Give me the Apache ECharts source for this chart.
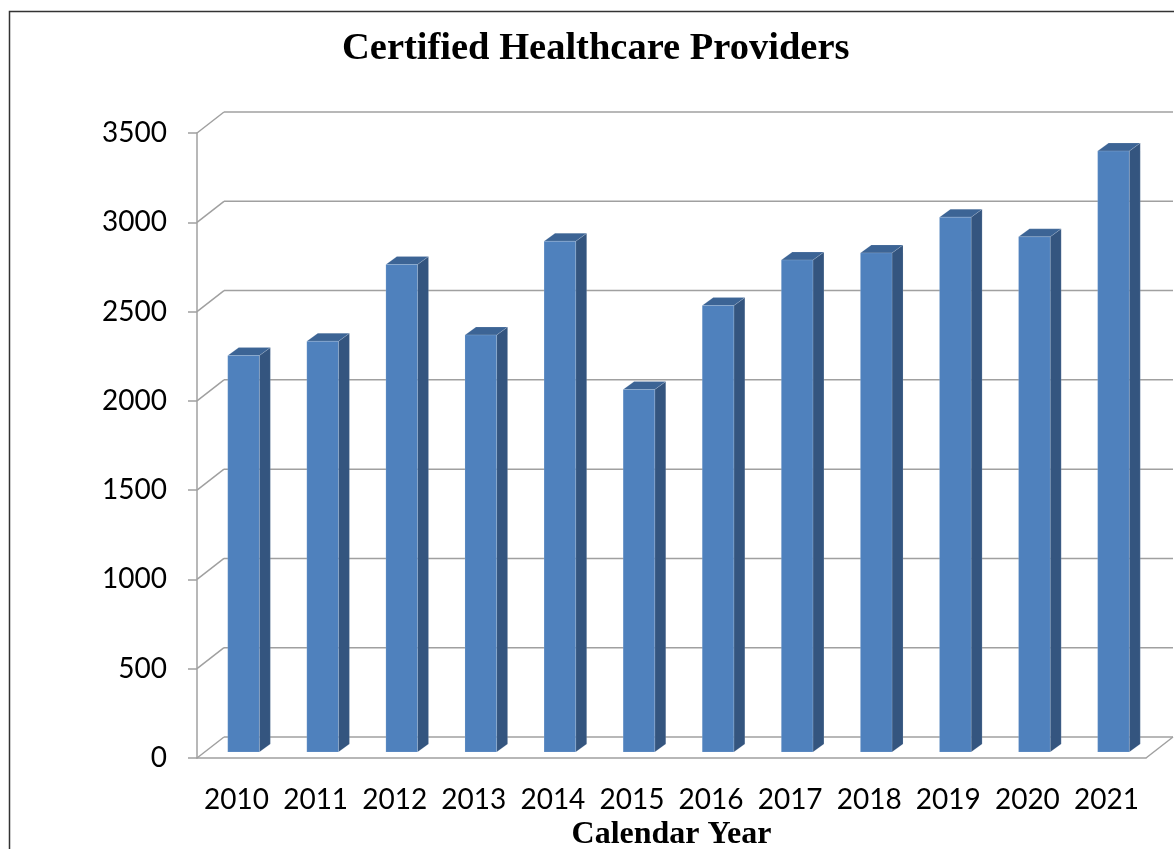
<!DOCTYPE html>
<html>
<head>
<meta charset="utf-8">
<title>Certified Healthcare Providers</title>
<script src="https://cdn.jsdelivr.net/npm/echarts@6/dist/echarts.min.js"></script>
<style>
  html, body { margin: 0; padding: 0; background: #fff; }
  #container { width: 1174px; height: 849px; }
</style>
</head>
<body>
<div id="container"></div>
<script>
// data
var years = ['2010', '2011', '2012', '2013', '2014', '2015', '2016', '2017', '2018', '2019', '2020', '2021'];
var providers = [2220, 2300, 2730, 2335, 2860, 2030, 2500, 2755, 2795, 2995, 2885, 3365];
var yTicks = [0, 500, 1000, 1500, 2000, 2500, 3000, 3500];

var dom = document.getElementById('container');
var myChart = echarts.init(dom);

// pseudo 3d depth of the back wall / of a bar
var WALL_DX = 27, WALL_DY = 21;
var BAR_DX = 11, BAR_DY = 8;
var gridColor = '#a0a0a0';

function renderWall(params, api) {
  var cs = params.coordSys;
  var v = api.value(1);
  var y = api.coord([0, v])[1];
  var x0 = cs.x, x1 = cs.x + cs.width;
  var style = { stroke: gridColor, lineWidth: 1.5 };
  var kids = [
    { type: 'line', shape: { x1: x0, y1: y, x2: x0 + WALL_DX, y2: y - WALL_DY }, style: style },
    { type: 'line', shape: { x1: x0 + WALL_DX, y1: y - WALL_DY, x2: x1 + WALL_DX, y2: y - WALL_DY }, style: style }
  ];
  if (v === 0) {
    kids.push({ type: 'line', shape: { x1: x1, y1: y, x2: x1 + WALL_DX, y2: y - WALL_DY }, style: style });
  }
  return { type: 'group', children: kids };
}

function renderBar(params, api) {
  var i = api.value(0);
  var top = api.coord([i, api.value(1)]);
  var base = api.coord([i, 0]);
  var bw = api.size([1, 0])[0] * 0.4;
  var cx = top[0] + 7;
  var xl = cx - bw / 2, xr = cx + bw / 2;
  var ty = top[1] - 6, by = base[1] - 6;
  return {
    type: 'group',
    children: [
      { type: 'polygon', shape: { points: [[xr, ty], [xr + BAR_DX, ty - BAR_DY], [xr + BAR_DX, by - BAR_DY], [xr, by]] },
        style: { fill: '#34557f', stroke: 'rgba(255,255,255,0.25)', lineWidth: 0.5 } },
      { type: 'polygon', shape: { points: [[xl, ty], [xl + BAR_DX, ty - BAR_DY], [xr + BAR_DX, ty - BAR_DY], [xr, ty]] },
        style: { fill: '#3c6495', stroke: 'rgba(255,255,255,0.25)', lineWidth: 0.5 } },
      { type: 'rect', shape: { x: xl, y: ty, width: bw, height: by - ty },
        style: { fill: '#4f81bd', stroke: 'rgba(255,255,255,0.25)', lineWidth: 0.5 } }
    ]
  };
}

option = {
  backgroundColor: '#fff',
  animation: false,
  title: {
    text: 'Certified Healthcare Providers',
    left: 337,
    top: 25,
    textStyle: { fontFamily: 'Liberation Serif', fontWeight: 'bold', fontSize: 38.5, color: '#000' }
  },
  graphic: [{
    type: 'rect', left: 7, top: 9, shape: { width: 1200, height: 900 },
    style: { fill: 'none', stroke: '#333', lineWidth: 1.5 }, z: 100
  }],
  grid: { left: 197, right: 28, top: 133, bottom: 91, containLabel: false, outerBoundsMode: 'none' },
  xAxis: {
    type: 'category',
    data: years,
    name: 'Calendar Year',
    nameLocation: 'middle',
    nameGap: 53,
    nameTextStyle: { fontFamily: 'Liberation Serif', fontWeight: 'bold', fontSize: 32, color: '#000' },
    axisLine: { lineStyle: { color: gridColor, width: 1.5 } },
    axisTick: { length: 9, lineStyle: { color: gridColor, width: 1.5 } },
    axisLabel: { interval: 0, margin: 28, fontFamily: 'Lato', fontSize: 28, color: '#000' },
    splitLine: { show: false }
  },
  yAxis: {
    type: 'value',
    min: 0,
    max: 3500,
    interval: 500,
    axisLine: { show: true, lineStyle: { color: gridColor, width: 1.5 } },
    axisTick: { show: true, length: 9, lineStyle: { color: gridColor, width: 1.5 } },
    axisLabel: {
      margin: 30, fontFamily: 'Lato', fontSize: 28, color: '#000',
      padding: [8, 0, 0, 0],
      formatter: function (v) { return String(v); }
    },
    splitLine: { show: false }
  },
  series: [
    {
      type: 'custom',
      renderItem: renderWall,
      data: yTicks.map(function (v) { return [0, v]; }),
      z: 1,
      silent: true
    },
    {
      type: 'custom',
      renderItem: renderBar,
      data: providers.map(function (v, i) { return [i, v]; }),
      z: 2
    }
  ]
};

if (option && typeof option === 'object') {
  myChart.setOption(option, true);
}
</script>
</body>
</html>
